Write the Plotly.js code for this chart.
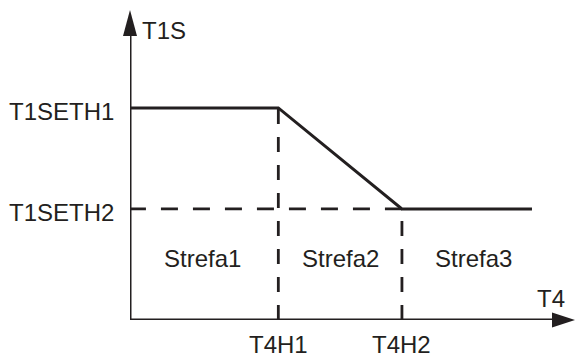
<!DOCTYPE html>
<html><head><meta charset="utf-8">
<script src="https://cdn.plot.ly/plotly-3.0.1.min.js"></script>
<style>html,body{margin:0;padding:0;background:#fff}#c{width:575px;height:358px}</style>
</head><body><div id="c"></div>
<script>
// Data (abstract units)
const xT4H1 = 3.0, xT4H2 = 5.5, xLineEnd = 8.13, xAxisEnd = 9.0;
const yT1SETH1 = 4.2, yT1SETH2 = 2.2, yAxisEnd = 6.14;
const curveX = [0, xT4H1, xT4H2, xLineEnd];
const curveY = [yT1SETH1, yT1SETH1, yT1SETH2, yT1SETH2];
const xTickVals = [xT4H1, xT4H2];
const xTickText = ['T4H1', 'T4H2'];
const yTickVals = [yT1SETH1, yT1SETH2];
const yTickText = ['T1SETH1', 'T1SETH2'];
const zoneNames = ['Strefa1', 'Strefa2', 'Strefa3'];
const zoneX = [1.47, 4.25, 6.94];
const zoneY = 1.21;

const INK = '#231f20';
const FONT = {family: 'Arial, "Liberation Sans", sans-serif', size: 24, color: INK};

const traces = [
  // axes
  {x: [0, 0], y: [0, yAxisEnd - 0.4], mode: 'lines', line: {color: INK, width: 3}, hoverinfo: 'skip', cliponaxis: false},
  {x: [0, xAxisEnd - 0.4], y: [0, 0], mode: 'lines', line: {color: INK, width: 3}, hoverinfo: 'skip', cliponaxis: false},
  // dashed guides
  {x: [xT4H2, 0], y: [yT1SETH2, yT1SETH2], mode: 'lines', line: {color: INK, width: 2.8, dash: '17px,15px'}, hoverinfo: 'skip'},
  {x: [xT4H1, xT4H1], y: [0, yT1SETH1], mode: 'lines', line: {color: INK, width: 2.8, dash: '15px,13px'}, hoverinfo: 'skip'},
  {x: [xT4H2, xT4H2], y: [0, yT1SETH2], mode: 'lines', line: {color: INK, width: 2.8, dash: '15px,13px'}, hoverinfo: 'skip'},
  // curve
  {x: curveX, y: curveY, mode: 'lines', line: {color: INK, width: 3}, hoverinfo: 'skip'}
];

const annotations = [];
xTickVals.forEach((v, i) => annotations.push({x: v, y: 0, xref: 'x', yref: 'y', text: xTickText[i], showarrow: false, xanchor: 'center', yanchor: 'middle', yshift: -24, borderpad: 0, font: FONT}));
yTickVals.forEach((v, i) => annotations.push({x: 0, y: v, xref: 'x', yref: 'y', text: yTickText[i], showarrow: false, xanchor: 'right', yanchor: 'middle', xshift: -14, yshift: -4, font: FONT}));
zoneNames.forEach((n, i) => annotations.push({x: zoneX[i], y: zoneY, xref: 'x', yref: 'y', text: n, showarrow: false, xanchor: 'center', yanchor: 'middle', font: FONT}));
annotations.push({x: 0, y: yAxisEnd, xref: 'x', yref: 'y', text: 'T1S', showarrow: false, xanchor: 'left', yanchor: 'middle', xshift: 10, yshift: -20, font: FONT});
annotations.push({x: xAxisEnd, y: 0, xref: 'x', yref: 'y', text: 'T4', showarrow: false, xanchor: 'right', yanchor: 'middle', xshift: -8, yshift: 22, font: FONT});

// arrowheads at the axis ends (paper 1 = axis range max)
const shapes = [
  {type: 'path', xref: 'paper', yref: 'paper', xsizemode: 'pixel', ysizemode: 'pixel', xanchor: 1, yanchor: 0,
   path: 'M0,0 L-23,7.5 L-23,-7.5 Z', fillcolor: INK, line: {width: 0}},
  {type: 'path', xref: 'paper', yref: 'paper', xsizemode: 'pixel', ysizemode: 'pixel', xanchor: 0, yanchor: 1,
   path: 'M0,0 L7,-26 L-7,-26 Z', fillcolor: INK, line: {width: 0}}
];

const layout = {
  width: 575, height: 358,
  margin: {l: 130, r: 0, t: 10, b: 38},
  paper_bgcolor: '#fff', plot_bgcolor: '#fff',
  showlegend: false,
  xaxis: {range: [0, xAxisEnd], visible: false, fixedrange: true},
  yaxis: {range: [0, yAxisEnd], visible: false, fixedrange: true},
  annotations: annotations,
  shapes: shapes
};
Plotly.newPlot('c', traces, layout, {staticPlot: true, displayModeBar: false});
</script></body></html>
